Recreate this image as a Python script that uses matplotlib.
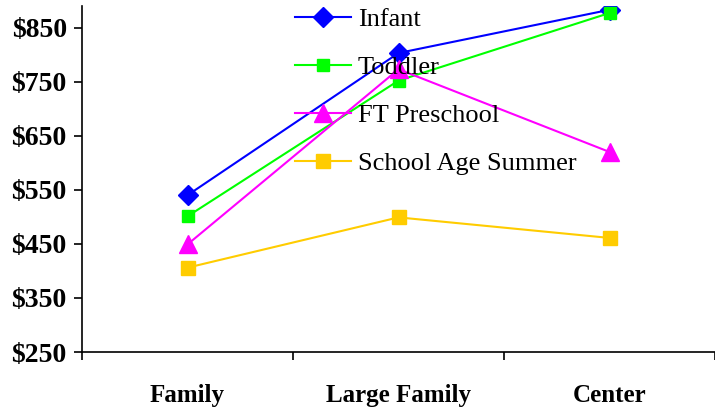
import matplotlib.pyplot as plt
from matplotlib.ticker import FixedLocator

# monthly cost by provider type
categories = ['Family', 'Large Family', 'Center']
infant = [540, 803, 883]
toddler = [501, 752, 877]
ft_preschool = [449, 773, 620]
school_age = [406, 499, 461]

yticks = [250, 350, 450, 550, 650, 750, 850]
ytick_labels = ['$250', '$350', '$450', '$550', '$650', '$750', '$850']

plt.rcParams['font.family'] = ['Liberation Serif', 'DejaVu Serif']

fig = plt.figure(figsize=(7.15, 4.07), dpi=100)
ax = fig.add_axes([82 / 715, 1 - 352 / 407, 633 / 715, 346 / 407])

x = range(len(categories))
ax.plot(x, infant, color='#0000FF', lw=1.5, marker='D', ms=10.5, label='Infant')
ax.plot(x, toddler, color='#00FF00', lw=1.5, marker='s', ms=9, label='Toddler')
ax.plot(x, ft_preschool, color='#FF00FF', lw=1.5, marker='^', ms=12.5, label='FT Preschool')
ax.plot(x, school_age, color='#FFCC00', lw=1.5, marker='s', ms=10, label='School Age Summer')

ax.set_xlim(-0.5, 2.5)
ax.set_ylim(250, 890)
ax.set_yticks(yticks)
ax.set_yticklabels(ytick_labels, fontsize=20, fontweight='bold')
ax.set_xticks(list(x))
ax.set_xticklabels(categories, fontsize=18, fontweight='bold')
ax.tick_params(axis='x', which='major', length=0, pad=23)
ax.xaxis.set_minor_locator(FixedLocator([-0.5, 0.5, 1.5, 2.5]))
ax.tick_params(axis='x', which='minor', length=6, width=1.2, direction='out')
ax.tick_params(axis='y', length=6, width=1.2, direction='out', pad=5)

for side in ['top', 'right']:
    ax.spines[side].set_visible(False)
for side in ['left', 'bottom']:
    ax.spines[side].set_linewidth(1.2)

ax.legend(loc='upper left', bbox_to_anchor=(0.336, 0.995), frameon=False,
          fontsize=19, handlelength=2.15, handletextpad=0.25, labelspacing=0.93,
          borderpad=0, borderaxespad=0)

fig.savefig('out.png', dpi=100)
